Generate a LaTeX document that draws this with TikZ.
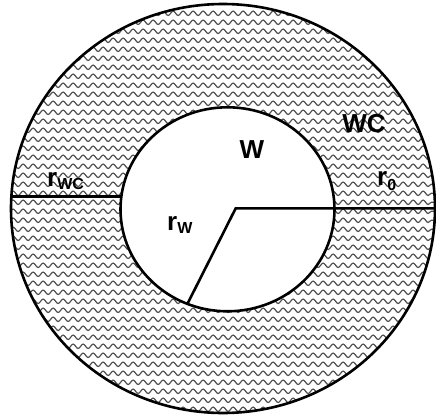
\documentclass[tikz,border=0pt]{standalone}
\usepackage{fontspec}
\setmainfont{Liberation Sans}
\usetikzlibrary{decorations.pathmorphing}
\definecolor{wavegray}{RGB}{80,80,80}
\newcommand{\lblsub}[1]{\raisebox{-3pt}{\fontsize{16}{16}\selectfont #1}}

\begin{document}
\begin{tikzpicture}[x=1pt, y=-1pt,
    rim/.style={line width=2.6pt, black},
    rad/.style={line width=2.6pt, black},
    wave/.style={wavegray, line width=1.2pt, decorate,
      decoration={snake, segment length=10pt, amplitude=2.2pt}},
    lbl/.style={font=\fontsize{26}{26}\selectfont\bfseries, inner sep=0pt}
  ]
  \useasboundingbox (0,0) rectangle (436,415);
  \coordinate (oc) at (223,208.5);
  \coordinate (ic) at (227.5,209.3);
  \coordinate (ctr) at (235.7,208.3);
  \coordinate (ow) at (11,196.7);
  \coordinate (iw) at (121,196.7);
  \coordinate (oe) at (436,208.3);
  \coordinate (rs) at (187.7,303.3);
  % wavy ring
  \begin{scope}
    \clip (oc) ellipse [x radius=212, y radius=204.5];
    \foreach \k in {0,...,45} { \draw[wave] (0,13.3+9*\k) -- (436,13.3+9*\k); }
  \end{scope}
  \fill[white] (ic) ellipse [x radius=107, y radius=102];
  \draw[rim] (oc) ellipse [x radius=212, y radius=204.5];
  \draw[rim] (ic) ellipse [x radius=107, y radius=102];
  \draw[rad] (ow) -- (iw);
  \draw[rad] (rs) -- (ctr) -- (oe);
  \node[lbl] (lw) at (252,150) {W};
  \node[lbl] (lwc) at (364,124) {WC};
  \node[lbl, anchor=base west] (lrwc) at (47,186.7) {r\lblsub{WC}};
  \node[lbl, anchor=base west] (lr0) at (377,185) {r\raisebox{-2pt}{\lblsub{0}}};
  \node[lbl, anchor=base west] (lrw) at (167,230) {r\lblsub{W}};
\end{tikzpicture}
\end{document}
